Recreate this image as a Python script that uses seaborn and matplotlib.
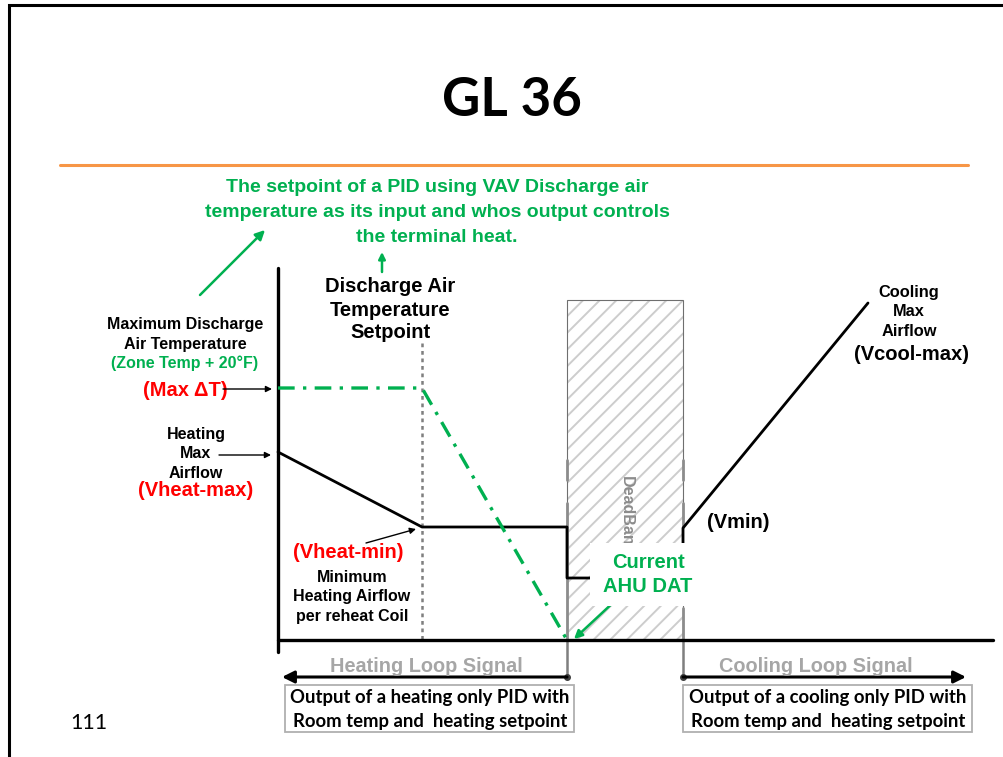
import matplotlib
matplotlib.use("Agg")
import matplotlib.pyplot as plt
from matplotlib.patches import Rectangle
import seaborn as sns
import pandas as pd

# Diagram data in slide pixel units (x to the right, y downward)
airflow_x = [278, 422, 567, 567, 683, 683, 868]
airflow_y = [452, 527, 527, 578, 578, 528, 303]
dat_x = [278, 422, 567]
dat_y = [388, 388, 640]

deadband_x = [567, 683]
deadband_top = 300
axis_y = 640
setpoint_x = 422
# grey marks left on the deadband edges (x, y_start, y_end)
edge_marks = [(567, 460, 480), (567, 503, 640), (683, 460, 480),
              (683, 503, 527), (683, 608, 640)]

green_note = ["The setpoint of a PID using VAV Discharge air",
              "temperature as its input and whos output controls",
              "the terminal heat."]
heating_box = ["Output of a heating only PID with",
               "Room temp and  heating setpoint"]
cooling_box = ["Output of a cooling only PID with",
               "Room temp and  heating setpoint"]

GREEN = "#00B050"
RED = "#FF0000"
GREY = "#A6A6A6"
ARIAL = ["Liberation Sans", "DejaVu Sans"]
CALIBRI = ["Lato", "DejaVu Sans"]

sns.set_theme(style="white")
plt.rcParams["font.family"] = ARIAL
plt.rcParams["hatch.linewidth"] = 1.4

fig = plt.figure(figsize=(10.04, 7.57), dpi=100)
ax = fig.add_axes([0, 0, 1, 1])


def label(x, y, s, size, color="black", family=ARIAL, weight="bold", **kw):
    ax.text(x, y, s, ha=kw.pop("ha", "center"), va=kw.pop("va", "center"),
            fontsize=size, color=color, family=family, fontweight=weight, **kw)


def arrow(x0, y0, x1, y1, color="black", lw=1.0, scale=10, style="-|>"):
    ax.annotate("", xy=(x1, y1), xytext=(x0, y0),
                arrowprops=dict(arrowstyle=style, color=color, lw=lw,
                                mutation_scale=scale, shrinkA=0, shrinkB=0))


# curves (drawn first, the axes are fixed afterwards)
curves = pd.DataFrame({"x": airflow_x, "y": airflow_y})
sns.lineplot(data=curves, x="x", y="y", sort=False, estimator=None,
             ax=ax, color="black", lw=2.0, zorder=3, legend=False)
sns.lineplot(x=dat_x, y=dat_y, sort=False, estimator=None, ax=ax, color=GREEN,
             lw=2.4, linestyle=(0, (5, 2.5, 1, 2.5)), zorder=4)
ax.set_xlim(0, 1004)
ax.set_ylim(757, 0)
ax.axis("off")

# slide frame, title and orange rule
ax.plot([9, 9, 1004], [757, 5, 5], color="black", lw=2.2, solid_joinstyle="miter")
label(512, 100, "GL 36", 38, family=CALIBRI)
ax.plot([60, 968], [165, 165], color="#F79646", lw=2.2)
label(89, 723, "111", 15.5, family=CALIBRI, weight="normal")

# green note on top
for i, line in enumerate(green_note):
    label(437, 188 + 24.5 * i, line, 14, color=GREEN)
arrow(200, 295, 265, 230, color=GREEN, lw=1.8, scale=14)
arrow(382, 272, 382, 252, color=GREEN, lw=1.8, scale=10)

# deadband: light hatch, then a thin darker border
db_w = deadband_x[1] - deadband_x[0]
db_h = axis_y - deadband_top
ax.add_patch(Rectangle((deadband_x[0], deadband_top), db_w, db_h, facecolor="white",
                       edgecolor="#CDCDCD", lw=0, hatch="//", zorder=1))
ax.add_patch(Rectangle((deadband_x[0], deadband_top), db_w, db_h, fill=False,
                       edgecolor="#6F6F6F", lw=0.8, zorder=1.5))
for x, y0, y1 in edge_marks:
    ax.plot([x, x], [y0, y1], color="#8C8C8C", lw=2.0, zorder=2)
label(626, 476, "DeadBand", 11.5, color="#8C8C8C", rotation=270, va="top", zorder=2)

# axes of the diagram
ax.plot([278, 278], [268, 652], color="black", lw=2.4, zorder=3)
ax.plot([278, 993], [axis_y, axis_y], color="black", lw=2.4, zorder=3)
ax.plot([setpoint_x, setpoint_x], [343, axis_y], color="#7F7F7F", lw=1.8,
        linestyle=(0, (1.5, 1.5)), zorder=2)

# white patch behind "Current AHU DAT"
ax.add_patch(Rectangle((590, 543), 95, 63, facecolor="white", edgecolor="none", zorder=5))
label(648, 563, "Current", 14.5, color=GREEN, zorder=6)
label(648, 587, "AHU DAT", 14.5, color=GREEN, zorder=6)
arrow(617, 599, 574, 639, color=GREEN, lw=1.8, scale=12)

# left annotations
label(185, 324, "Maximum Discharge", 11.5)
label(185, 344, "Air Temperature", 11.5)
label(185, 363, "(Zone Temp + 20°F)", 11.5, color=GREEN)
label(185, 391, "(Max ΔT)", 14.5, color=RED)
arrow(223, 389, 272, 389, lw=1.0, scale=9)
label(196, 435, "Heating", 11.5)
label(196, 454, "Max", 11.5)
arrow(219, 455, 271, 455, lw=1.0, scale=9)
label(196, 473, "Airflow", 11.5)
label(196, 491, "(Vheat-max)", 14.5, color=RED)

label(390, 286, "Discharge Air", 14.5)
label(390, 310, "Temperature", 14.5)
label(390, 333, "Setpoint", 14.5)

label(348, 552, "(Vheat-min)", 14.5, color=RED)
label(352, 578, "Minimum", 11.5)
label(352, 597, "Heating Airflow", 11.5)
label(352, 616, "per reheat Coil", 11.5)
arrow(366, 543, 416, 529, lw=1.0, scale=9)

# right annotations
label(738, 522, "(Vmin)", 14.5)
label(909, 292, "Cooling", 11.8)
label(909, 311, "Max", 11.8)
label(909, 331, "Airflow", 11.8)
label(912, 354, "(Vcool-max)", 14.5)

# loop signal arrows
for x in deadband_x:
    ax.plot([x, x], [axis_y, 677], color="#7F7F7F", lw=1.8, zorder=2)
    ax.plot([x], [677], marker="o", ms=4, color="#404040", zorder=3)
arrow(567, 677, 282, 677, lw=2.2, scale=18)
arrow(683, 677, 966, 677, lw=2.2, scale=18)
label(426, 667, "Heating Loop Signal", 14.3, color=GREY)
label(816, 666, "Cooling Loop Signal", 14.3, color=GREY)

# output boxes
for x0, lines in [(285, heating_box), (683, cooling_box)]:
    ax.add_patch(Rectangle((x0, 685), 289, 47, facecolor="white",
                           edgecolor="#B0B0B0", lw=1.3, zorder=2))
    for i, line in enumerate(lines):
        label(x0 + 145, 697 + 24 * i, line, 13.3, family=CALIBRI, zorder=3)

fig.savefig("out.png", dpi=100)
